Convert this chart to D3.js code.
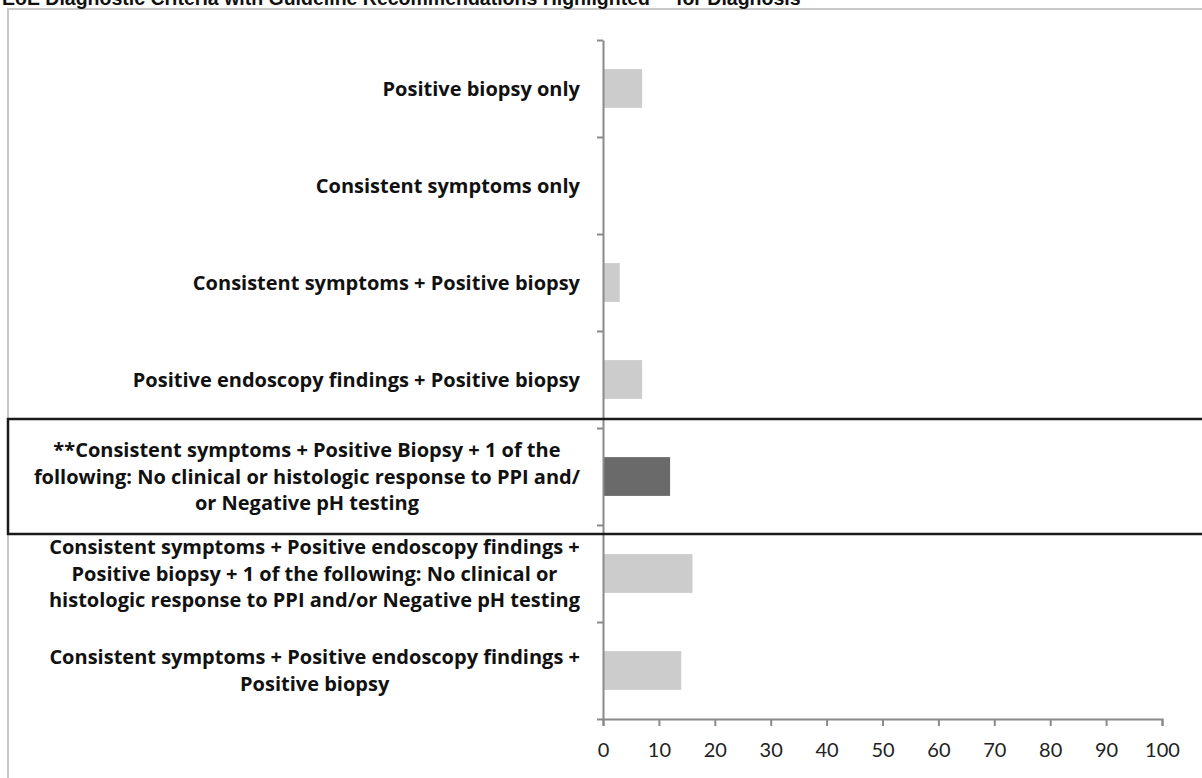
<!DOCTYPE html>
<html>
<head>
<script src="https://d3js.org/d3.v7.min.js"></script>
<style>
  body { margin: 0; background: #fff; }
  svg { display: block; }
</style>
</head>
<body>
<script>
// chart data, top to bottom
var categories = [
    ["Positive biopsy only"],
    ["Consistent symptoms only"],
    ["Consistent symptoms + Positive biopsy"],
    ["Positive endoscopy findings + Positive biopsy"],
    ["**Consistent symptoms + Positive Biopsy + 1 of the",
     "following: No clinical or histologic response to PPI and/",
     "or Negative pH testing"],
    ["Consistent symptoms + Positive endoscopy findings +",
     "Positive biopsy + 1 of the following: No clinical or",
     "histologic response to PPI and/or Negative pH testing"],
    ["Consistent symptoms + Positive endoscopy findings +",
     "Positive biopsy"]
];
var values = [7, 0, 3, 7, 12, 16, 14];
var highlighted = [false, false, false, false, true, false, false];
var xTicks = [0, 10, 20, 30, 40, 50, 60, 70, 80, 90, 100];
var title = "EoE Diagnostic Criteria with Guideline Recommendations Highlighted ** for Diagnosis";

var W = 1202, H = 778;
var x0 = 603, x1 = 1162, yTop = 40, yBot = 719;
var labelRight = 580;
var font = "'Open Sans', Lato, sans-serif";

var svg = d3.select('body').append('svg')
    .attr('width', W).attr('height', H);

// outer frame
svg.append('path')
    .attr('d', 'M8,' + H + 'V9H' + W)
    .attr('fill', 'none')
    .attr('stroke', '#c8c8c8')
    .attr('stroke-width', 2);

// clipped title
svg.append('text')
    .attr('x', 2).attr('y', 5)
    .attr('font-family', "'Liberation Sans', Arial, sans-serif")
    .attr('font-weight', 700)
    .attr('font-size', 19.5)
    .attr('fill', '#111')
    .text(title);

var idx = d3.range(categories.length);
var x = d3.scaleLinear().domain([0, 100]).range([x0, x1]);
var y = d3.scaleBand().domain(idx).range([yTop, yBot]).paddingInner(0.6).paddingOuter(0.3);
var yEdge = d3.scaleLinear().domain([0, categories.length]).range([yTop, yBot]);

// bars
svg.selectAll('rect.bar').data(idx).join('rect')
    .attr('class', 'bar')
    .attr('x', x(0))
    .attr('y', function(i){ return y(i) })
    .attr('width', function(i){ return x(values[i]) - x(0) })
    .attr('height', y.bandwidth())
    .attr('fill', function(i){ return highlighted[i] ? '#6a6a6a' : '#cccccc' });

// x axis
var xAxis = svg.append('g')
    .attr('transform', 'translate(0,' + yBot + ')')
    .call(d3.axisBottom(x).tickValues(xTicks).tickSize(7).tickSizeOuter(7).tickPadding(17));
xAxis.selectAll('path, line').attr('stroke', '#8a8a8a').attr('stroke-width', 2);
xAxis.selectAll('text')
    .attr('font-family', "Lato, sans-serif")
    .attr('font-size', 20)
    .attr('fill', '#222');

// y axis with boundary ticks
var yAxis = svg.append('g')
    .attr('transform', 'translate(' + x0 + ',0)')
    .call(d3.axisLeft(yEdge).tickValues(d3.range(categories.length + 1)).tickSize(6).tickSizeOuter(0).tickFormat(''));
yAxis.selectAll('path, line').attr('stroke', '#8a8a8a').attr('stroke-width', 2);

// category labels: block right-aligned, lines centred within block
var lineH = 26.5;
var labels = svg.selectAll('g.lab').data(idx).join('g').attr('class', 'lab');
labels.each(function(i){
    var g = d3.select(this);
    var lines = categories[i];
    var t = g.selectAll('text').data(lines).join('text')
        .attr('font-family', font)
        .attr('font-weight', 700)
        .attr('font-size', 20)
        .attr('fill', '#111')
        .attr('text-anchor', 'middle')
        .text(function(d){ return d });
    var maxW = d3.max(t.nodes(), function(n){ return n.getComputedTextLength() });
    var cy = y(i) + y.bandwidth() / 2;
    t.attr('x', labelRight - maxW / 2)
     .attr('y', function(d, k){ return cy + (k - (lines.length - 1) / 2) * lineH })
     .attr('dy', '0.35em');
});

// highlight box round the recommended criteria
var hi = highlighted.indexOf(true);
var boxTop = yEdge(hi) - 9, boxBot = yEdge(hi + 1) + 9;
svg.append('path')
    .attr('d', 'M' + W + ',' + boxTop + 'H8V' + boxBot + 'H' + W)
    .attr('fill', 'none')
    .attr('stroke', '#1a1a1a')
    .attr('stroke-width', 2.5);
</script>
</body>
</html>
